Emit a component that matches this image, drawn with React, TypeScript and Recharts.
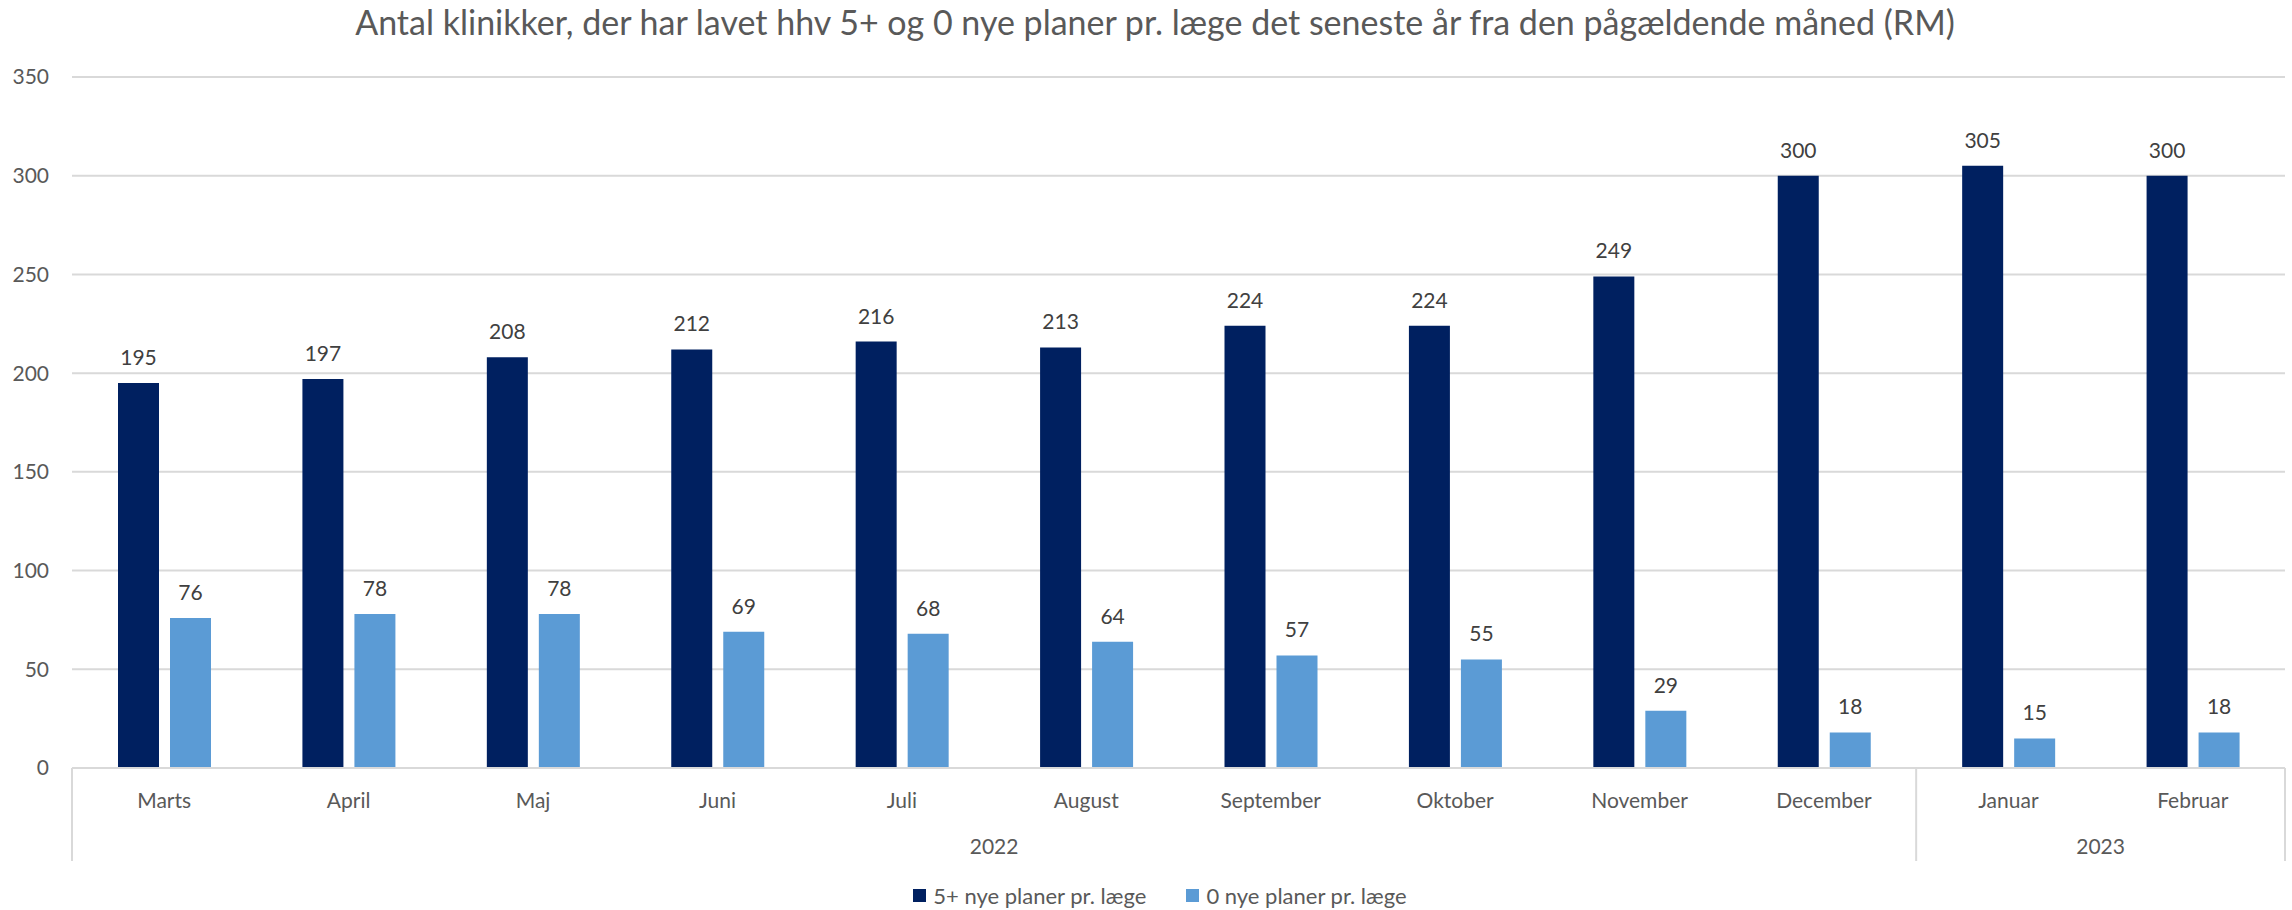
import React from 'react';
import { BarChart, Bar, XAxis, YAxis, CartesianGrid, Legend, LabelList } from 'recharts';

const months = ['Marts', 'April', 'Maj', 'Juni', 'Juli', 'August', 'September', 'Oktober', 'November', 'December', 'Januar', 'Februar'];
const years = ['2022', '2022', '2022', '2022', '2022', '2022', '2022', '2022', '2022', '2022', '2023', '2023'];
const fivePlus = [195, 197, 208, 212, 216, 213, 224, 224, 249, 300, 305, 300];
const zeroPlans = [76, 78, 78, 69, 68, 64, 57, 55, 29, 18, 15, 18];
const yTicks = [0, 50, 100, 150, 200, 250, 300, 350];

const SERIES = [
  { key: 'five', name: '5+ nye planer pr. læge', color: '#002060' },
  { key: 'zero', name: '0 nye planer pr. læge', color: '#5B9BD5' },
];

const data = months.map((m, i) => ({ month: m, year: years[i], five: fivePlus[i], zero: zeroPlans[i] }));

const FONT = 'Lato, "Open Sans", sans-serif';
const GRID = '#d9d9d9';

// month label + year row + group separators, all placed from the axis' own tick coordinates
const MonthTick = (props: any) => {
  const { x, y, payload } = props;
  const i: number = payload.index;
  const half: number = payload.offset;
  const firstOfYear = i === 0 || years[i] !== years[i - 1];
  const last = i === months.length - 1;
  let n = 0;
  if (firstOfYear) {
    while (i + n < years.length && years[i + n] === years[i]) n++;
  }
  return (
    <g>
      <text x={x} y={y + 40} textAnchor="middle" fill="#595959" fontSize={21} fontFamily={FONT}>
        {payload.value}
      </text>
      {firstOfYear && (
        <>
          <line x1={x - half} x2={x - half} y1={y} y2={y + 93} stroke={GRID} strokeWidth={2} />
          <text x={x + (n - 1) * half} y={y + 86} textAnchor="middle" fill="#595959" fontSize={21} fontFamily={FONT}>
            {years[i]}
          </text>
        </>
      )}
      {last && <line x1={x + half} x2={x + half} y1={y} y2={y + 93} stroke={GRID} strokeWidth={2} />}
    </g>
  );
};

const LegendContent = () => (
  <div style={{ display: 'flex', justifyContent: 'center', paddingLeft: 28, fontFamily: FONT, fontSize: 22, color: '#595959' }}>
    {SERIES.map((s, i) => (
      <div key={s.key} style={{ display: 'flex', alignItems: 'center', marginLeft: i ? 40 : 0 }}>
        <span style={{ width: 13, height: 13, background: s.color, display: 'inline-block', marginRight: 7 }} />
        <span>{s.name}</span>
      </div>
    ))}
  </div>
);

const App: React.FC = () => {
  return (
    <div style={{ position: 'absolute', left: 0, top: 0, width: 2292, height: 910, background: '#fff' }}>
      <div
        style={{
          position: 'absolute',
          top: 1,
          left: 0,
          width: 2292,
          paddingLeft: 18,
          boxSizing: 'border-box',
          textAlign: 'center',
          fontFamily: FONT,
          fontWeight: 400,
          fontSize: 34,
          color: '#595959',
          zIndex: 2,
        }}
      >
        Antal klinikker, der har lavet hhv 5+ og 0 nye planer pr. læge det seneste år fra den pågældende måned (RM)
      </div>
      <BarChart width={2292} height={910} data={data} margin={{ top: 77, right: 7, left: 0, bottom: 0 }} barGap={11}>
        <CartesianGrid vertical={false} stroke={GRID} strokeWidth={2} />
        <XAxis
          dataKey="month"
          interval={0}
          height={142}
          tickSize={0}
          tickMargin={0}
          axisLine={{ stroke: GRID, strokeWidth: 2 }}
          tickLine={false}
          tick={<MonthTick />}
        />
        <YAxis
          width={72}
          domain={[0, 350]}
          ticks={yTicks}
          axisLine={false}
          tickLine={false}
          tickSize={0}
          tickMargin={23}
          tick={{ fill: '#595959', fontSize: 21, fontFamily: FONT }}
        />
        <Legend
          layout="horizontal"
          verticalAlign="middle"
          align="center"
          wrapperStyle={{ top: 882, left: 0, width: 2292 }}
          content={<LegendContent />}
        />
        {SERIES.map((s) => (
          <Bar key={s.key} dataKey={s.key} name={s.name} fill={s.color} barSize={41} isAnimationActive={false}>
            <LabelList dataKey={s.key} position="top" offset={18} fill="#404040" fontSize={21} fontFamily={FONT} />
          </Bar>
        ))}
      </BarChart>
    </div>
  );
};

export default App;
